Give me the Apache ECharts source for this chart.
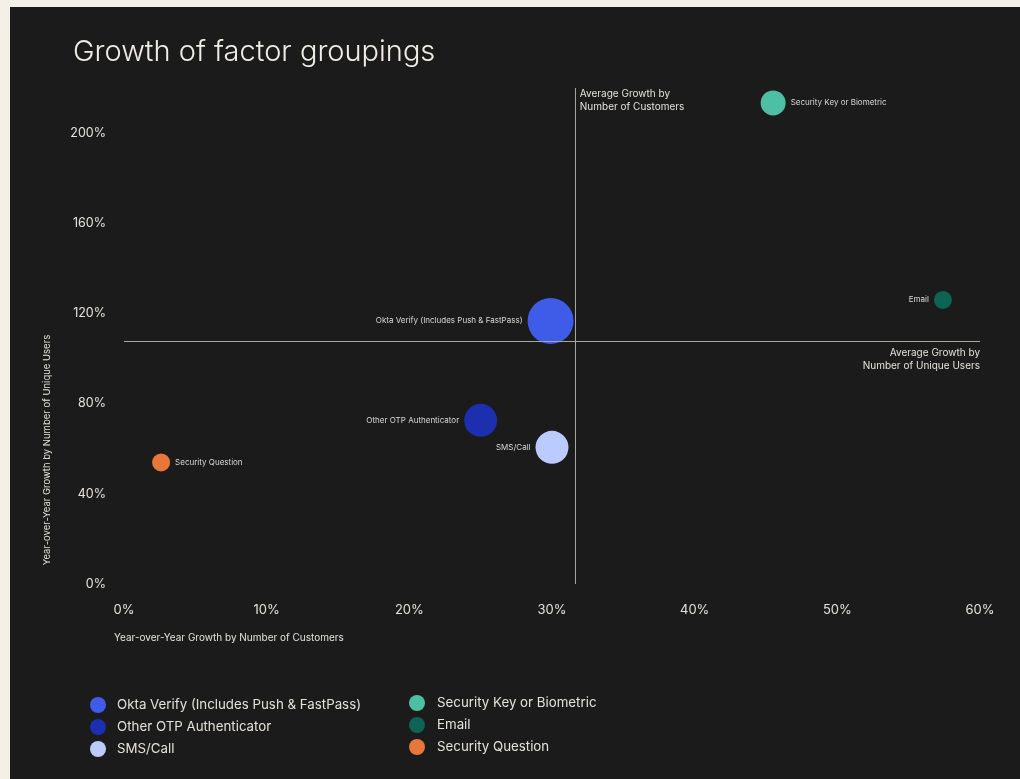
<!DOCTYPE html>
<html><head><meta charset="utf-8">
<script src="https://cdn.jsdelivr.net/npm/echarts@6/dist/echarts.min.js"></script>
<style>
html,body{margin:0;padding:0;background:#f4f0e6;width:1020px;height:779px;overflow:hidden}
#panel{position:absolute;left:10px;top:7px;width:1010px;height:772px;background:#1b1b1b}
#chart{position:absolute;left:0;top:0;width:1020px;height:779px}
</style></head><body><div id="panel"></div><div id="chart"></div>
<script>
const categories = ['Okta Verify (Includes Push & FastPass)','Other OTP Authenticator','SMS/Call','Security Key or Biometric','Email','Security Question'];
const customerGrowth = [29.9, 25.0, 30.0, 45.5, 57.4, 2.6];
const userGrowth = [116.7, 72.6, 60.6, 213.4, 126.0, 53.9];
const bubbleValue = [46, 33, 33, 25, 18, 18];
const labelSide = ['left','left','left','right','left','right'];
const colors = ['#3f5ce8','#1c2fae','#bccbff','#4dbfa5','#0d6354','#e8773a'];
const avgCustomerGrowth = 31.6;
const avgUserGrowth = 107.8;
const xTickStep = 10, xMax = 60;
const yTickStep = 40, yMax = 220;

const FONT = 'Inter, "Noto Sans", sans-serif';
const TXT = '#e6e2d8';
const chart = echarts.init(document.getElementById('chart'));

const series = categories.map((name, i) => ({
  name,
  type: 'scatter',
  data: [[customerGrowth[i], userGrowth[i], bubbleValue[i]]],
  symbolSize: v => v[2],
  itemStyle: { color: colors[i], opacity: 1 },
  label: { show: true, position: labelSide[i], distance: 5, formatter: name, fontSize: 8, color: '#d9d9d9', fontFamily: FONT },
  z: 3,
  silent: true
}));
series.push({
  type: 'scatter', data: [], silent: true,
  markLine: {
    silent: true, symbol: 'none', animation: false,
    lineStyle: { color: '#a9a69d', width: 1, type: 'solid' },
    label: { show: false },
    data: [{ xAxis: avgCustomerGrowth }, { yAxis: avgUserGrowth }]
  }
});

const option = {
  animation: false,
  backgroundColor: 'transparent',
  textStyle: { fontFamily: FONT },
  title: { text: 'Growth of factor groupings', left: 68, top: 33,
    textStyle: { color: '#f1ede3', fontSize: 29, fontWeight: 300, fontFamily: FONT } },
  grid: { left: 124, right: 40, top: 88, bottom: 195 },
  xAxis: { type: 'value', min: 0, max: xMax, interval: xTickStep,
    axisLine: { show: false }, axisTick: { show: false }, splitLine: { show: false },
    axisLabel: { color: TXT, fontSize: 13, margin: 20, formatter: '{value}%', fontFamily: FONT } },
  yAxis: { type: 'value', min: 0, max: yMax, interval: yTickStep,
    axisLine: { show: false }, axisTick: { show: false }, splitLine: { show: false },
    axisLabel: { color: TXT, fontSize: 12.5, margin: 18, formatter: '{value}%', showMaxLabel: false, fontFamily: FONT } },
  legend: [
    { data: categories.slice(0, 3), orient: 'vertical', left: 85, top: 692, itemWidth: 16, itemHeight: 16, itemGap: 6, icon: 'circle',
      selectedMode: false, textStyle: { color: TXT, fontSize: 13.3, padding: [0,0,0,6], fontFamily: FONT } },
    { data: categories.slice(3), orient: 'vertical', left: 404, top: 690, itemWidth: 16, itemHeight: 16, itemGap: 6, icon: 'circle',
      selectedMode: false, textStyle: { color: TXT, fontSize: 13.3, padding: [0,0,0,7], fontFamily: FONT } }
  ],
  series
};
chart.setOption(option);

const vx = chart.convertToPixel({ xAxisIndex: 0 }, avgCustomerGrowth);
const hy = chart.convertToPixel({ yAxisIndex: 0 }, avgUserGrowth);
const topY = chart.convertToPixel({ yAxisIndex: 0 }, yMax);
const rightX = chart.convertToPixel({ xAxisIndex: 0 }, xMax);
const leftX = chart.convertToPixel({ xAxisIndex: 0 }, 0);
const bottomY = chart.convertToPixel({ yAxisIndex: 0 }, 0);

chart.setOption({
  graphic: [
    { type: 'text', x: vx + 5, y: topY - 1, style: { text: 'Average Growth by\nNumber of Customers', fill: TXT, fontSize: 10, lineHeight: 13, fontFamily: FONT, textAlign: 'left', textVerticalAlign: 'top' } },
    { type: 'text', x: rightX, y: hy + 6, style: { text: 'Average Growth by\nNumber of Unique Users', fill: TXT, fontSize: 10, lineHeight: 13, fontFamily: FONT, textAlign: 'right', textVerticalAlign: 'top' } },
    { type: 'text', x: leftX - 10, y: bottomY + 54, style: { text: 'Year-over-Year Growth by Number of Customers', fill: TXT, fontSize: 10, fontFamily: FONT, textAlign: 'left', textVerticalAlign: 'middle' } },
    { type: 'text', x: 47, y: 450, rotation: Math.PI / 2, style: { text: 'Year-over-Year Growth by Number of Unique Users', fill: TXT, fontSize: 9.5, fontFamily: FONT, textAlign: 'center', textVerticalAlign: 'middle' } }
  ]
});
</script></body></html>
